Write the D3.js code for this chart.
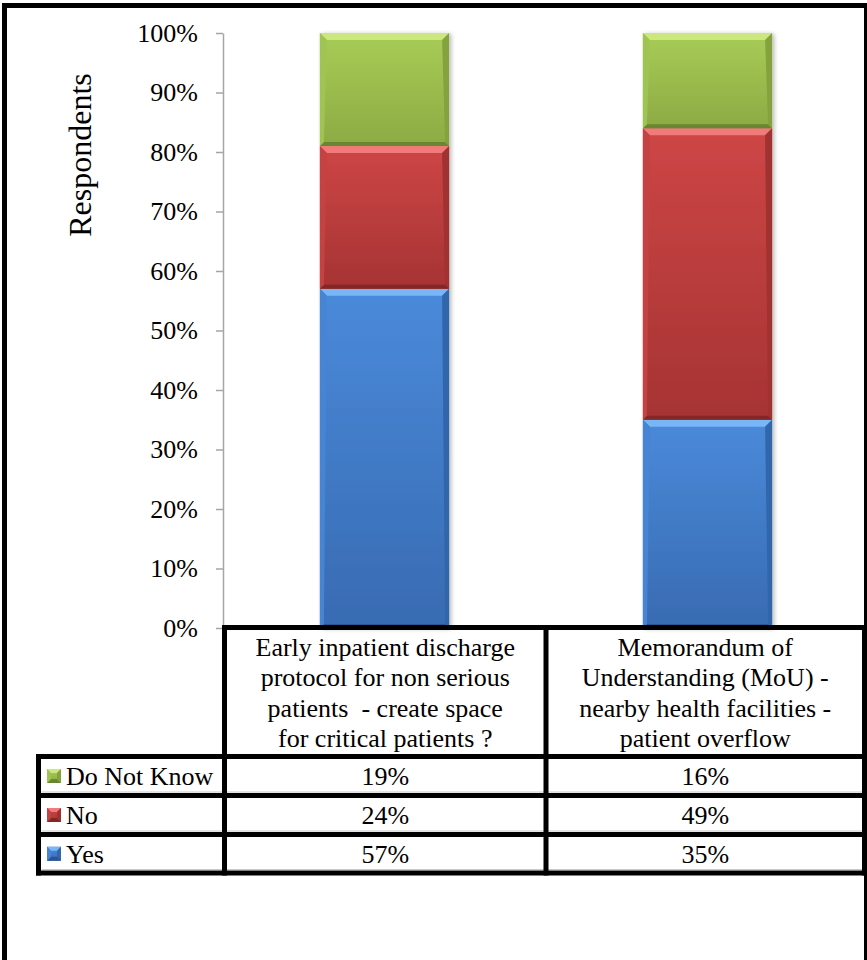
<!DOCTYPE html>
<html><head><meta charset="utf-8">
<script src="https://cdn.jsdelivr.net/npm/d3@7"></script>
<style>html,body{margin:0;padding:0;background:#fff;}svg{display:block;}
svg text{font-family:"Liberation Serif","Times New Roman",serif;white-space:pre;}</style>
</head><body>
<script>
// ---- data ----
const categories = ["Early inpatient discharge protocol for non serious patients  - create space for critical patients ?",
                    "Memorandum of Understanding (MoU) - nearby health facilities - patient overflow"];
const categoryLines = [
  ["Early inpatient discharge", "protocol for non serious", "patients  - create space", "for critical patients ?"],
  ["Memorandum of", "Understanding (MoU) -", "nearby health facilities -", "patient overflow"]
];
const seriesNames = ["Yes", "No", "Do Not Know"];
const yesValues = [57, 35];
const noValues = [24, 49];
const dnkValues = [19, 16];
const yTicks = [0, 10, 20, 30, 40, 50, 60, 70, 80, 90, 100];
const yTitle = "Respondents";

const W = 867, H = 960;
const FONT = "Liberation Serif, Times New Roman, serif";
const svg = d3.select("body").append("svg").attr("width", W).attr("height", H);

const seriesValues = [yesValues, noValues, dnkValues];
const styles = {
  "Yes": {g0:"#4A8ADA", g1:"#386BB2", top:"#78B6F6", left:"#4684D4", right:"#3366AA", bot:"#2A5592"},
  "No": {g0:"#CE4646", g1:"#A63333", top:"#F27A7A", left:"#C44242", right:"#A03030", bot:"#842626"},
  "Do Not Know": {g0:"#A8CC56", g1:"#8CAB44", top:"#CAE87C", left:"#A0C452", right:"#84A23E", bot:"#6A8632"}
};

const defs = svg.append("defs");
seriesNames.forEach((s, i) => {
  const lg = defs.append("linearGradient").attr("id", "grad" + i).attr("x1", 0).attr("y1", 0).attr("x2", 0).attr("y2", 1);
  lg.append("stop").attr("offset", "0%").attr("stop-color", styles[s].g0);
  lg.append("stop").attr("offset", "100%").attr("stop-color", styles[s].g1);
});
const f = defs.append("filter").attr("id", "shadow").attr("x", "-10%").attr("y", "-10%").attr("width", "130%").attr("height", "130%");
f.append("feDropShadow").attr("dx", 2).attr("dy", 1).attr("stdDeviation", 2).attr("flood-color", "#000").attr("flood-opacity", 0.28);

// ---- scales ----
const x = d3.scaleBand().domain(categories).range([223, 869]).paddingInner(0.6).paddingOuter(0.3);
const y = d3.scaleLinear().domain([0, 100]).range([628, 33]);

// ---- stacked data ----
const rows = categories.map((c, i) => {
  const o = {cat: c};
  seriesNames.forEach((s, j) => o[s] = seriesValues[j][i]);
  return o;
});
const stack = d3.stack().keys(seriesNames)(rows);

// ---- bars with bevel ----
const barG = svg.append("g").attr("filter", "url(#shadow)");
function bevel(g, bx, yt, yb, w, st, gi, b) {
  g.append("rect").attr("x", bx).attr("y", yt).attr("width", w).attr("height", yb - yt).attr("fill", `url(#grad${gi})`);
  const poly = (pts, c) => g.append("polygon").attr("points", pts.map(p => p.join(",")).join(" ")).attr("fill", c);
  const bb = Math.min(4, b);
  poly([[bx, yt], [bx + w, yt], [bx + w - b, yt + b], [bx + b, yt + b]], st.top);
  poly([[bx, yb], [bx + w, yb], [bx + w - bb, yb - bb], [bx + bb, yb - bb]], st.bot);
  poly([[bx, yt], [bx + b, yt + b], [bx + bb, yb - bb], [bx, yb]], st.left);
  poly([[bx + w, yt], [bx + w - b, yt + b], [bx + w - bb, yb - bb], [bx + w, yb]], st.right);
}
stack.forEach((layer, gi) => {
  const s = layer.key;
  layer.forEach(d => {
    const g = barG.append("g").attr("class", "seg");
    bevel(g, x(d.data.cat), y(d[1]), y(d[0]), x.bandwidth(), styles[s], gi, 7);
  });
});

// ---- y axis ----
const yAxis = d3.axisLeft(y).tickValues(yTicks).tickFormat(d => d + "%").tickSize(7).tickSizeOuter(0);
const ax = svg.append("g").attr("transform", "translate(223,0)").call(yAxis).attr("font-family", FONT);
ax.select(".domain").attr("stroke", "#A6A6A6").attr("stroke-width", 1.5);
ax.selectAll(".tick line").attr("stroke", "#A6A6A6").attr("stroke-width", 1.5);
ax.selectAll(".tick text").attr("font-family", FONT).attr("font-size", 26).attr("fill", "#000")
  .attr("x", -25).attr("dy", "0.32em");

svg.append("text").attr("transform", "translate(91,155) rotate(-90)").attr("text-anchor", "middle")
  .attr("font-family", FONT).attr("font-size", 32).attr("fill", "#000").text(yTitle);

// ---- data table ----
const T = svg.append("g");
const colEdges = [x.range()[0] + 1.5, 546, 864.5];
const colCenters = [ (colEdges[0] + colEdges[1]) / 2, (colEdges[1] + colEdges[2]) / 2 ];
const headerTop = 627.5, headerBot = 756.5;
const rowLines = [headerBot, 795.5, 834.5, 873];
const legendLeft = 38.5;

// header text
categoryLines.forEach((lines, i) => {
  lines.forEach((ln, k) => {
    T.append("text").attr("x", colCenters[i]).attr("y", 656 + k * 30.3).attr("text-anchor", "middle")
      .attr("font-family", FONT).attr("font-size", 26).attr("fill", "#000").attr("xml:space", "preserve").text(ln);
  });
});
// legend rows: top to bottom Do Not Know, No, Yes
const tableOrder = [2, 1, 0];
tableOrder.forEach((si, r) => {
  const yc = (rowLines[r] + rowLines[r + 1]) / 2;
  const s = seriesNames[si];
  const sq = T.append("g");
  bevel(sq, 47, yc - 7, yc + 7, 14, styles[s], si, 4);
  T.append("text").attr("x", 66).attr("y", yc + 9).attr("font-family", FONT).attr("font-size", 26)
    .attr("fill", "#000").text(s);
  categories.forEach((c, i) => {
    T.append("text").attr("x", colCenters[i]).attr("y", yc + 9).attr("text-anchor", "middle")
      .attr("font-family", FONT).attr("font-size", 26).attr("fill", "#000").text(seriesValues[si][i] + "%");
  });
});
// thin inner gray borders
const thin = (x1, y1, x2, y2) => T.append("line").attr("x1", x1).attr("y1", y1).attr("x2", x2).attr("y2", y2)
  .attr("stroke", "#C8C8C8").attr("stroke-width", 1);
rowLines.slice(1).forEach(ly => thin(legendLeft + 3, ly - 3.5, 867, ly - 3.5));
// thick lines
const thick = (x1, y1, x2, y2) => T.append("line").attr("x1", x1).attr("y1", y1).attr("x2", x2).attr("y2", y2)
  .attr("stroke", "#000").attr("stroke-width", 5);
thick(colEdges[0] - 2.5, headerTop, 867, headerTop);
rowLines.forEach(ly => thick(legendLeft - 2.5, ly, 867, ly));
colEdges.forEach(cx => thick(cx, headerTop - 2.5, cx, 875.5));
thick(legendLeft, headerBot - 2.5, legendLeft, 875.5);

// ---- outer frame ----
svg.append("rect").attr("x", 2).attr("y", 3).attr("width", 865).attr("height", 5).attr("fill", "#000");
svg.append("rect").attr("x", 2).attr("y", 3).attr("width", 5).attr("height", 957).attr("fill", "#000");
svg.append("rect").attr("x", 864).attr("y", 3).attr("width", 3).attr("height", 957).attr("fill", "#000");
</script>
</body></html>
